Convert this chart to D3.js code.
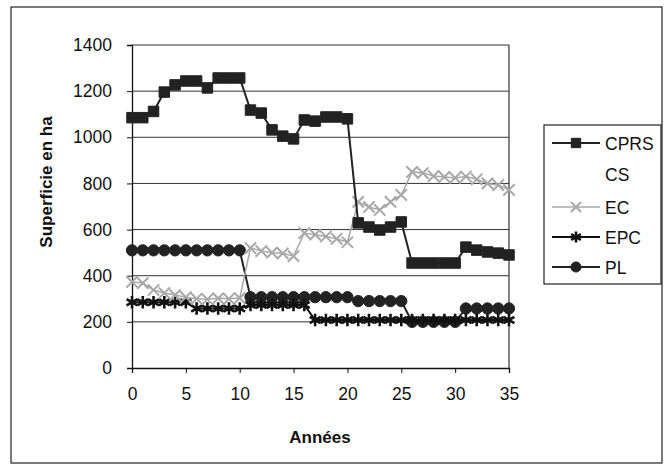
<!DOCTYPE html>
<html><head><meta charset="utf-8">
<script src="https://cdn.jsdelivr.net/npm/d3@7"></script>
<style>body{margin:0;background:#fff}svg{font-family:"Liberation Sans",Arial,sans-serif}</style>
</head><body>
<svg id="c" width="664" height="470"></svg>
<script>
const years = d3.range(0, 36);
const xTicks = [0, 5, 10, 15, 20, 25, 30, 35];
const yTicks = [0, 200, 400, 600, 800, 1000, 1200, 1400];
const seriesNames = ["CPRS", "CS", "EC", "EPC", "PL"];
const CPRS = [1085,1085,1112,1196,1227,1244,1244,1214,1257,1257,1257,1118,1105,1032,1005,993,1075,1070,1088,1088,1080,629,611,598,611,633,455,455,455,455,455,524,511,503,498,490];
const CS = [];
const EC = [373,368,338,325,316,307,300,298,302,300,303,520,507,500,497,485,585,578,570,560,545,720,698,685,720,750,850,845,832,828,824,830,818,800,793,772];
const EPC = [285,285,285,285,285,285,258,258,258,258,258,273,273,273,273,273,273,208,208,208,208,208,208,208,208,208,208,208,208,208,208,208,208,208,208,208];
const PL = [510,510,510,510,510,510,510,510,510,510,510,307,307,307,307,307,307,307,307,307,307,290,290,290,290,290,200,200,200,200,200,258,258,258,258,258];

const svg = d3.select("#c");
const x = d3.scaleLinear().domain([0, 35]).range([132, 509]);
const y = d3.scaleLinear().domain([0, 1400]).range([368, 45]);

svg.append("rect").attr("x", 11).attr("y", 7).attr("width", 651).attr("height", 456)
  .attr("fill", "none").attr("stroke", "#222").attr("stroke-width", 1.2);

svg.append("g").selectAll("line").data(yTicks.filter(d => d > 0)).join("line")
  .attr("x1", x(0)).attr("x2", x(35)).attr("y1", d => y(d)).attr("y2", d => y(d))
  .attr("stroke", "#333").attr("stroke-width", 1);
svg.append("line").attr("x1", x(35)).attr("x2", x(35)).attr("y1", y(1400)).attr("y2", y(0))
  .attr("stroke", "#333").attr("stroke-width", 1.2);

const yAxis = svg.append("g").attr("transform", `translate(${x(0)},0)`)
  .call(d3.axisLeft(y).tickValues(yTicks).tickFormat(d3.format("d")).tickSize(5).tickPadding(15));
const xAxis = svg.append("g").attr("transform", `translate(0,${y(0)})`)
  .call(d3.axisBottom(x).tickValues(xTicks).tickFormat(d3.format("d")).tickSize(5).tickPadding(15));
[yAxis, xAxis].forEach(g => {
  g.select(".domain").attr("stroke", "#111").attr("stroke-width", 1.3);
  g.selectAll(".tick line").attr("stroke", "#111");
  g.selectAll("text").attr("font-size", 17.5).attr("fill", "#111").attr("font-family", '"Liberation Sans",Arial,sans-serif');
});

svg.append("text").attr("transform", `translate(52,182) rotate(-90)`).attr("text-anchor", "middle")
  .attr("font-size", 17).attr("font-weight", "bold").attr("fill", "#111").text("Superficie en ha");
svg.append("text").attr("x", 320).attr("y", 443).attr("text-anchor", "middle")
  .attr("font-size", 17).attr("font-weight", "bold").attr("fill", "#111").text("Années");

const styles = {
  CPRS: {data: CPRS, color: "#222", width: 2, sym: d3.symbolSquare, size: 110, fill: true, sw: 1},
  CS:   {data: CS, color: "none", width: 0, sym: null},
  EC:   {data: EC, color: "#a8a8a8", width: 1.5, sym: d3.symbolTimes, size: 85, fill: false, sw: 2},
  EPC:  {data: EPC, color: "#111", width: 2, sym: d3.symbolAsterisk, size: 110, fill: false, sw: 2.6},
  PL:   {data: PL, color: "#222", width: 2, sym: d3.symbolCircle, size: 100, fill: true, sw: 1}
};
const line = d3.line().x((d, i) => x(years[i])).y(d => y(d));
const drawOrder = ["PL", "EPC", "EC", "CPRS"];
drawOrder.forEach(name => {
  const s = styles[name];
  if (!s.data.length) return;
  const g = svg.append("g");
  g.append("path").attr("d", line(s.data)).attr("fill", "none").attr("stroke", s.color).attr("stroke-width", s.width);
  g.selectAll("path.m").data(s.data).join("path").attr("class", "m")
    .attr("transform", (d, i) => `translate(${x(years[i])},${y(d)})`)
    .attr("d", d3.symbol(s.sym, s.size)())
    .attr("fill", s.fill ? s.color : "none").attr("stroke", s.color).attr("stroke-width", s.sw);
});

const lg = svg.append("g");
lg.append("rect").attr("x", 544).attr("y", 125).attr("width", 117).attr("height", 159)
  .attr("fill", "#fff").attr("stroke", "#222").attr("stroke-width", 1.2);
const ly = [143, 174, 207, 237, 267];
seriesNames.forEach((name, i) => {
  const s = styles[name];
  if (s.sym) {
    lg.append("line").attr("x1", 552).attr("x2", 600).attr("y1", ly[i]).attr("y2", ly[i])
      .attr("stroke", s.color).attr("stroke-width", s.width);
    lg.append("path").attr("transform", `translate(576,${ly[i]})`).attr("d", d3.symbol(s.sym, s.size * 0.8)())
      .attr("fill", s.fill ? s.color : "#fff").attr("stroke", s.color).attr("stroke-width", s.sw);
  }
  lg.append("text").attr("x", 605).attr("y", ly[i] + 6.5).attr("font-size", 17.5).attr("fill", "#111").text(name);
});
</script>
</body></html>
